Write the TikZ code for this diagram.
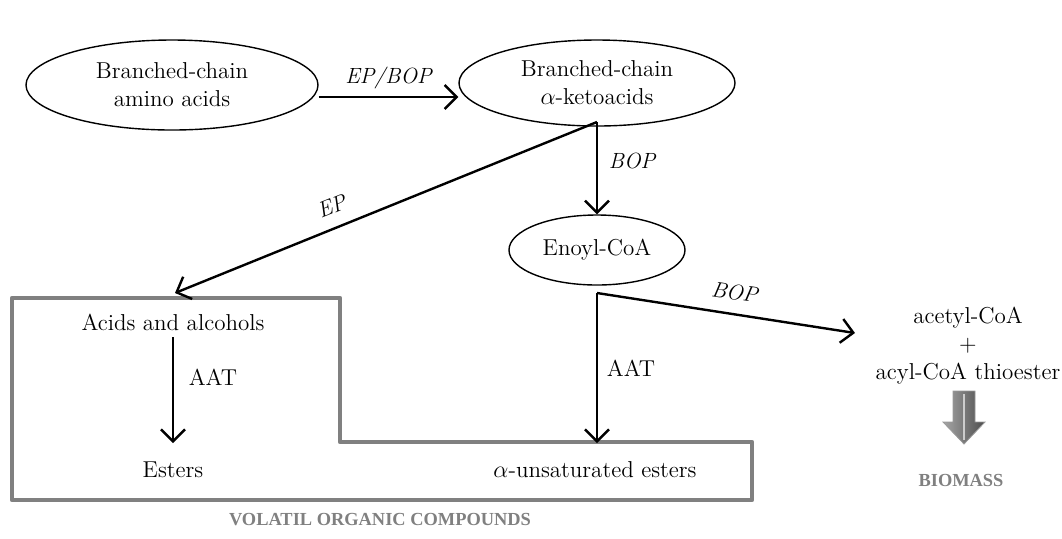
\documentclass[tikz,border=0pt]{standalone}
\usepackage{fontspec}
\usepackage{amsmath}
\usepackage{amssymb}
\usepackage{tikz}
\usetikzlibrary{calc, positioning, arrows.meta}
\newfontfamily\titlefont{Liberation Serif}

\tikzset{
  pool/.style={ellipse, draw, line width=0.7pt, align=center, minimum width=#1},
  flow/.style={-{Straight Barb[length=6pt,width=12pt]}, line width=1.2pt},
  lab/.style={font=\fontsize{11}{13}\selectfont\itshape},
  grey box/.style={draw=black!50, line width=2.4pt, line join=round},
  grey title/.style={text=black!50, font=\titlefont\fontsize{9.2}{11}\selectfont\bfseries},
}
\usetikzlibrary{shapes.geometric}

\begin{document}
\begin{tikzpicture}[x=0.5pt, y=-0.5pt, font=\fontsize{11.5}{14}\selectfont]
        \useasboundingbox (0,0) rectangle (1062,538);

        % pools
        \node[pool=146pt, minimum height=45pt](bca) at (172,85) {Branched-chain\\amino acids};
        \node[pool=138pt, minimum height=43pt](keto) at (597,83) {Branched-chain\\$\alpha$-ketoacids};
        \node[pool=88pt, minimum height=35pt](enoyl) at (597,250) {Enoyl-CoA};

        % volatile compounds
        \draw[grey box] (12,298) -- (340,298) -- (340,442) -- (752,442) -- (752,500) -- (12,500) -- cycle;
        \node(acids) at (173,322) {Acids and alcohols};
        \node(esters) at (173,470) {Esters};
        \node(unsat) at (595,470) {$\alpha$-unsaturated esters};
        \node[grey title](voc) at (380,520) {VOLATIL ORGANIC COMPOUNDS};

        % products
        \node[align=center](acetyl) at (968,346) {acetyl-CoA\\+\\acyl-CoA thioester};
        \node[grey title](biomass) at (961,480) {BIOMASS};
        \coordinate(k) at (597,122);
        \coordinate(e) at (597,293);

        \path[flow]
        (bca.east |- 0,97) edge node[above, lab] {EP/BOP} (keto.west |- 0,97)
        (k) edge node[right=2pt, lab, pos=0.42] {BOP} (enoyl.north)
        (k) edge node[above=3pt, sloped, lab, pos=0.61] {EP} (175,293)
        (e) edge node[right=1pt] {AAT} (597,443)
        (e) edge node[above=3pt, sloped, lab, pos=0.52] {BOP} (855,333)
        (acids.south) edge node[right=4pt, pos=0.38] {AAT} (173,443);

        % block arrow
        \shade[left color=black!35, right color=black!70, draw=black!40]
        (953,391) -- (975,391) -- (975,422) -- (985,422) -- (964,444) -- (943,422) -- (953,422) -- cycle;
        \draw[black!20, line width=0.6pt] (964,394) -- (964,440);
    \end{tikzpicture}
\end{document}
